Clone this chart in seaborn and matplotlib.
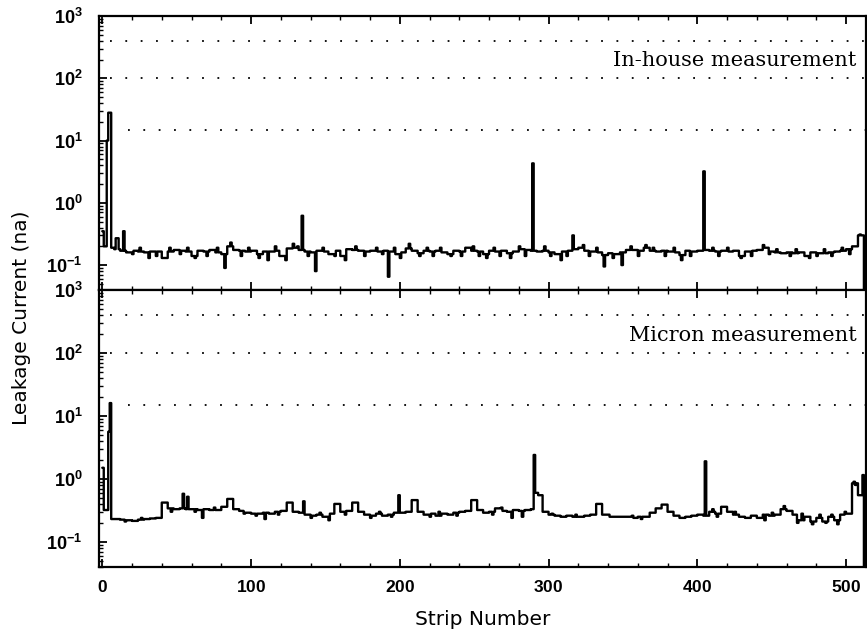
import numpy as np
import pandas as pd
import matplotlib
matplotlib.use("Agg")
import matplotlib.pyplot as plt
import seaborn as sns
from matplotlib.ticker import FixedLocator, MultipleLocator, LogLocator, NullFormatter

# ---------------- data ----------------
n_strips = 512
block = 4  # baseline values are given per block of 4 strips

# In-house measurement: baseline per 4-strip block (nA)
inhouse_base = [
    0.20, 0.19, 0.18, 0.17, 0.16, 0.17, 0.165, 0.16,
    0.165, 0.165, 0.13, 0.165, 0.175, 0.17, 0.165, 0.14,
    0.17, 0.165, 0.175, 0.16, 0.15, 0.20, 0.175, 0.17,
    0.165, 0.17, 0.15, 0.165, 0.165, 0.17, 0.14, 0.185,
    0.19, 0.175, 0.165, 0.16, 0.17, 0.165, 0.15, 0.17,
    0.14, 0.18, 0.175, 0.17, 0.165, 0.17, 0.165, 0.17,
    0.165, 0.15, 0.16, 0.185, 0.17, 0.155, 0.17, 0.165,
    0.17, 0.16, 0.15, 0.17, 0.165, 0.19, 0.17, 0.165,
    0.15, 0.17, 0.165, 0.17, 0.155, 0.165, 0.18, 0.175,
    0.17, 0.165, 0.17, 0.16, 0.15, 0.165, 0.17, 0.18,
    0.19, 0.17, 0.165, 0.16, 0.145, 0.155, 0.15, 0.16,
    0.175, 0.175, 0.17, 0.19, 0.17, 0.165, 0.17, 0.165,
    0.16, 0.145, 0.17, 0.165, 0.17, 0.175, 0.17, 0.165,
    0.17, 0.165, 0.17, 0.14, 0.165, 0.17, 0.175, 0.19,
    0.165, 0.16, 0.155, 0.16, 0.155, 0.16, 0.14, 0.16,
    0.155, 0.155, 0.16, 0.165, 0.17, 0.18, 0.20, 0.30,
]
# single-strip features (spikes / dips / wiggles): strip number and value
inhouse_strips = [0, 1, 2, 3, 4, 5, 9, 10, 14, 31, 62, 82, 86, 105, 111, 123,
                  128, 134, 143, 163, 192, 200, 206, 213, 234, 258, 274, 289,
                  308, 316, 323, 337, 349, 365, 389, 404, 429, 444, 475, 509,
                  20, 25, 36, 45, 52, 57, 70, 77, 93, 98,
                  116, 119, 131, 138, 148, 156, 170, 176, 184, 188,
                  196, 218, 222, 227, 241, 249, 253, 263, 267, 280,
                  284, 297, 301, 312, 327, 332, 343, 355, 360, 370,
                  378, 384, 395, 410, 414, 420, 436, 448, 453, 462,
                  466, 480, 485, 490, 497, 502]
inhouse_values = [0.35, 0.20, 0.20, 10.0, 28.0, 28.0, 0.27, 0.27, 0.35, 0.13,
                  0.13, 0.09, 0.23, 0.13, 0.12, 0.12, 0.22, 0.62, 0.08, 0.12,
                  0.065, 0.13, 0.22, 0.14, 0.14, 0.13, 0.13, 4.3, 0.12, 0.30,
                  0.21, 0.095, 0.10, 0.21, 0.12, 3.2, 0.13, 0.21, 0.13, 0.31,
                  0.15, 0.19, 0.14, 0.19, 0.15, 0.19, 0.14, 0.19, 0.14, 0.19,
                  0.20, 0.14, 0.20, 0.14, 0.19, 0.14, 0.20, 0.14, 0.19, 0.15,
                  0.19, 0.19, 0.14, 0.19, 0.14, 0.20, 0.14, 0.19, 0.14, 0.20,
                  0.14, 0.20, 0.14, 0.14, 0.14, 0.19, 0.13, 0.20, 0.14, 0.19,
                  0.14, 0.19, 0.14, 0.19, 0.14, 0.19, 0.14, 0.15, 0.18, 0.14,
                  0.18, 0.14, 0.18, 0.14, 0.19, 0.15]

# Micron measurement: baseline per 4-strip block (nA)
micron_base = [
    0.32, 0.23, 0.23, 0.225, 0.22, 0.215, 0.225, 0.23,
    0.235, 0.24, 0.42, 0.34, 0.33, 0.34, 0.33, 0.33,
    0.32, 0.33, 0.32, 0.32, 0.36, 0.48, 0.33, 0.31,
    0.29, 0.28, 0.28, 0.29, 0.28, 0.30, 0.31, 0.42,
    0.30, 0.29, 0.27, 0.26, 0.27, 0.25, 0.28, 0.40,
    0.30, 0.31, 0.42, 0.30, 0.27, 0.26, 0.28, 0.26,
    0.27, 0.29, 0.29, 0.30, 0.46, 0.30, 0.27, 0.28,
    0.26, 0.28, 0.27, 0.29, 0.30, 0.31, 0.46, 0.32,
    0.29, 0.30, 0.34, 0.31, 0.30, 0.32, 0.31, 0.32,
    0.33, 0.55, 0.30, 0.27, 0.26, 0.25, 0.26, 0.25,
    0.25, 0.26, 0.27, 0.40, 0.27, 0.25, 0.25, 0.25,
    0.25, 0.24, 0.25, 0.25, 0.29, 0.34, 0.39, 0.30,
    0.26, 0.24, 0.25, 0.26, 0.27, 0.26, 0.30, 0.28,
    0.36, 0.30, 0.27, 0.25, 0.24, 0.26, 0.24, 0.27,
    0.26, 0.27, 0.33, 0.31, 0.27, 0.22, 0.25, 0.21,
    0.24, 0.21, 0.25, 0.22, 0.27, 0.28, 0.85, 0.55,
]
micron_strips = [0, 1, 2, 3, 4, 5, 54, 57, 67, 109, 135, 152, 199, 275, 290,
                 291, 292, 405, 505, 506, 511,
                 15, 26, 46, 62, 75, 95, 103, 118, 140, 146,
                 163, 180, 186, 194, 220, 226, 238, 262, 268, 282,
                 302, 318, 340, 356, 362, 410, 413, 425, 445, 450,
                 458, 467, 470, 477, 482, 486, 490, 494, 499]
micron_values = [1.5, 0.32, 0.32, 0.32, 5.6, 16.0, 0.58, 0.52, 0.24, 0.23,
                 0.44, 0.22, 0.55, 0.24, 2.4, 0.6, 0.6, 1.9, 0.9, 0.8, 1.15,
                 0.21, 0.24, 0.30, 0.30, 0.35, 0.28, 0.26, 0.27, 0.24, 0.29,
                 0.27, 0.24, 0.30, 0.25, 0.25, 0.30, 0.26, 0.27, 0.35, 0.25,
                 0.28, 0.27, 0.27, 0.26, 0.23, 0.33, 0.25, 0.30, 0.22, 0.29,
                 0.37, 0.20, 0.28, 0.19, 0.27, 0.20, 0.27, 0.19, 0.30]

# reference levels (dotted) and their start strips
ref_levels = [400, 100, 15]
ref_starts = [5, 5, 17]

panel_titles = ["In-house measurement", "Micron measurement"]
x_ticks = [0, 100, 200, 300, 400, 500]
y_ticks = [0.1, 1, 10, 100, 1000]
y_ticklabels = [r"$\mathbf{10^{-1}}$", r"$\mathbf{10^{0}}$", r"$\mathbf{10^{1}}$",
                r"$\mathbf{10^{2}}$", r"$\mathbf{10^{3}}$"]
x_label = "Strip Number"
y_label = "Leakage Current (na)"


def build(base, strips, values):
    v = np.repeat(np.array(base, dtype=float), block)[:n_strips]
    v[np.array(strips)] = values
    x = np.arange(n_strips + 1)
    y = np.append(v, 1e-3)  # trace drops off the bottom after last strip
    return pd.DataFrame({"strip": x, "current": y})


frames = [build(inhouse_base, inhouse_strips, inhouse_values),
          build(micron_base, micron_strips, micron_values)]

# ---------------- plotting ----------------
sns.set_theme(style="ticks")
plt.rcParams["font.family"] = ["DejaVu Sans"]
plt.rcParams["text.color"] = "black"
plt.rcParams["axes.labelcolor"] = "black"
plt.rcParams["mathtext.fontset"] = "custom"
plt.rcParams["mathtext.bf"] = "Liberation Sans:bold"
plt.rcParams["mathtext.rm"] = "Liberation Sans:bold"
plt.rcParams["mathtext.it"] = "Liberation Sans:bold"

W, H = 867, 631
fig = plt.figure(figsize=(W / 100, H / 100), dpi=100)
left, right = 99 / W, 866 / W
rects = [(16, 290), (290, 567)]
axes = []
for (ytop, ybot) in rects:
    ax = fig.add_axes([left, 1 - ybot / H, right - left, (ybot - ytop) / H])
    axes.append(ax)

title_y = [0.838, 0.835]
for i, ax in enumerate(axes):
    df = frames[i]
    sns.lineplot(data=df, x="strip", y="current", ax=ax, color="black",
                 linewidth=1.7, drawstyle="steps-post", estimator=None,
                 legend=False)
    ax.set_yscale("log")
    ax.set_ylim(10 ** -1.4, 1000)
    ax.set_xlim(-2.2, 513.4)
    for lvl, st in zip(ref_levels, ref_starts):
        ax.hlines(lvl, st, 513.4, colors="black", linestyles=(0, (1, 7.5)),
                  linewidth=1.3)
    ax.text(0.988, title_y[i], panel_titles[i], transform=ax.transAxes,
            ha="right", va="center", fontsize=15, family="DejaVu Serif",
            color="black")
    ax.xaxis.set_major_locator(FixedLocator(x_ticks))
    ax.xaxis.set_minor_locator(MultipleLocator(20))
    ax.yaxis.set_major_locator(FixedLocator(y_ticks))
    ax.set_yticklabels(y_ticklabels)
    ax.yaxis.set_minor_locator(LogLocator(base=10, subs=np.arange(2, 10)))
    ax.yaxis.set_minor_formatter(NullFormatter())
    ax.tick_params(axis="both", which="major", direction="in", length=6,
                   width=1.3, colors="black")
    ax.tick_params(axis="both", which="minor", direction="in", length=3,
                   width=1.0, colors="black")
    ax.tick_params(axis="x", which="both", top=True, bottom=True)
    ax.tick_params(axis="y", which="both", left=True, right=False)
    ax.tick_params(axis="y", which="major", labelsize=13, pad=12)
    ax.tick_params(axis="x", which="major", labelsize=12.5, pad=8)
    for sp in ax.spines.values():
        sp.set_linewidth(1.6)
        sp.set_color("black")
        sp.set_visible(True)
    ax.set_xlabel("")
    ax.set_ylabel("")
    ax.grid(False)
    ax.set_facecolor("white")

axes[0].tick_params(axis="x", labelbottom=False)
axes[1].set_xticklabels([r"$\mathbf{%d}$" % t for t in x_ticks])
axes[1].set_xlabel(x_label, fontsize=14.5, labelpad=10, color="black")
fig.text(22 / W, 1 - 318 / H, y_label, rotation=90, ha="center", va="center",
         fontsize=14.5, color="black")

fig.savefig("out.png", dpi=100, facecolor="white")
